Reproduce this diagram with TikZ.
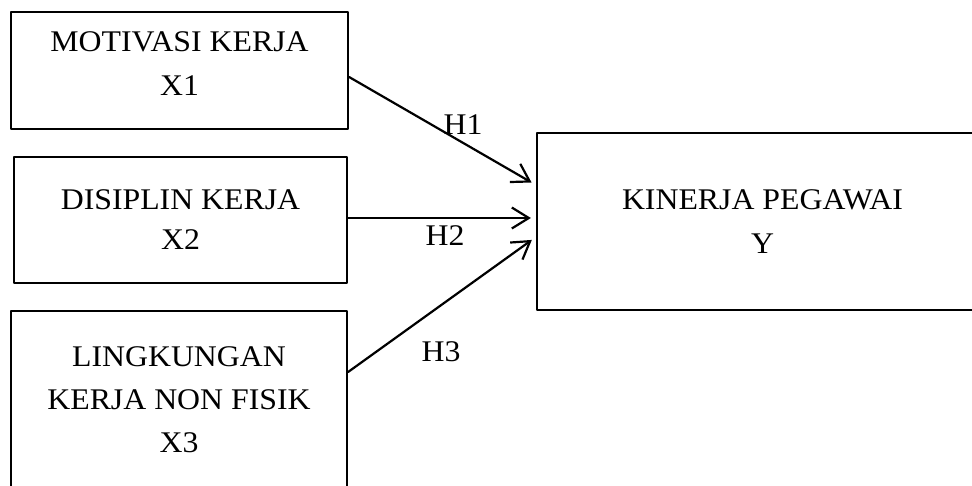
\documentclass[tikz,border=0pt]{standalone}
\usepackage{fontspec}
\setmainfont{Liberation Serif}[FakeStretch=1.06]
\usepackage{tikz}
\usetikzlibrary{arrows.meta}

\begin{document}
\begin{tikzpicture}[line cap=round,line join=round,x=1pt,y=-1pt,
  kotak/.style={draw,line width=2.2pt,align=center,inner sep=0pt},
  panah/.style={-{Straight Barb[length=17pt,width=21pt]},line width=2.2pt,shorten >=5pt},
  label/.style={inner sep=0pt}]
\useasboundingbox (0,0) rectangle (972,486);
\clip (0,0) rectangle (972,486);
\fontsize{30}{44}\selectfont
\node[kotak,minimum width=337pt,minimum height=117pt] (x1) at (179.5,70.5) {MOTIVASI KERJA\\X1\rule[-13pt]{0pt}{1pt}};
\node[kotak,minimum width=333pt,minimum height=126pt] (x2) at (180.5,220) {DISIPLIN KERJA\\[-4pt]X2};
\node[kotak,minimum width=336pt,minimum height=177pt] (x3) at (179,399.5) {LINGKUNGAN\\[-1pt]KERJA NON FISIK\\[-1pt]X3};
\node[kotak,minimum width=451pt,minimum height=177pt] (y) at (762.5,221.5) {KINERJA PEGAWAI\\Y};
\draw[panah] ([yshift=-6.5pt]x1.east) -- ([yshift=36.5pt]y.west);
\draw[panah] ([yshift=2pt]x2.east) -- ([yshift=3.5pt]y.west);
\draw[panah] ([yshift=27.5pt]x3.east) -- ([yshift=-15.5pt]y.west);
\node[label] (h1) at (463,125) {H1};
\node[label] (h2) at (445,236) {H2};
\node[label] (h3) at (441,352) {H3};
\end{tikzpicture}
\end{document}
